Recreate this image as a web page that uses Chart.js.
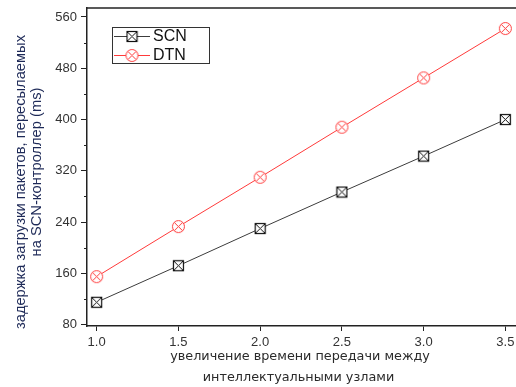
<!DOCTYPE html>
<html>
<head>
<meta charset="utf-8">
<script src="https://cdn.jsdelivr.net/npm/chart.js@4/dist/chart.umd.min.js"></script>
<style>
  html, body { margin: 0; padding: 0; background: #fff; }
  #viewport { width: 516px; height: 387px; overflow: hidden; position: relative; }
  #holder { width: 524px; height: 387px; position: absolute; left: 0; top: 0; }
  canvas { display: block; }
</style>
</head>
<body>
<div id="viewport"><div id="holder"><canvas id="chart" width="524" height="387" style="width:524px;height:387px"></canvas></div></div>
<script>
// Transmission-time multiplier between intelligent nodes
const xValues = [1.0, 1.5, 2.0, 2.5, 3.0, 3.5];
// Packet upload delay to the SCN controller, ms
const scnDelay = [115, 172, 230, 287, 343, 400];
const dtnDelay = [155, 233, 310, 388, 465, 542];

const xTicks = [1.0, 1.5, 2.0, 2.5, 3.0, 3.5];
const yTicks = [80, 160, 240, 320, 400, 480, 560];
const yMinorTicks = [120, 200, 280, 360, 440, 520];

const seriesNames = ['SCN', 'DTN'];
const yTitleLines = ['задержка загрузки пакетов, пересылаемых', 'на SCN-контроллер (ms)'];
const xTitleLines = ['увеличение времени передачи между', 'интеллектуальными узлами'];

const SCN_LINE = '#3c3c3c';
const SCN_MARK = '#111111';
const DTN_COLOR = '#ff3a3a';

// Hollow square with a cross inside
function squareCross(color) {
  const c = document.createElement('canvas');
  c.width = 13; c.height = 13;
  const g = c.getContext('2d');
  g.strokeStyle = color; g.lineWidth = 1.2;
  g.fillStyle = '#fff';
  g.fillRect(1.5, 1.5, 10, 10);
  g.strokeRect(1.5, 1.5, 10, 10);
  g.lineWidth = 1;
  g.beginPath();
  g.moveTo(1.5, 1.5); g.lineTo(11.5, 11.5);
  g.moveTo(11.5, 1.5); g.lineTo(1.5, 11.5);
  g.stroke();
  return c;
}

// Hollow circle with a cross inside
function circleCross(color) {
  const c = document.createElement('canvas');
  c.width = 15; c.height = 15;
  const g = c.getContext('2d');
  g.strokeStyle = color; g.lineWidth = 1;
  g.fillStyle = '#fff';
  g.beginPath(); g.arc(7.5, 7.5, 6, 0, Math.PI * 2); g.fill(); g.stroke();
  const d = 6 * Math.SQRT1_2;
  g.beginPath();
  g.moveTo(7.5 - d, 7.5 - d); g.lineTo(7.5 + d, 7.5 + d);
  g.moveTo(7.5 + d, 7.5 - d); g.lineTo(7.5 - d, 7.5 + d);
  g.stroke();
  return c;
}

const scnMarker = squareCross(SCN_MARK);
const dtnMarker = circleCross(DTN_COLOR);

const toPoints = ys => xValues.map((x, i) => ({ x, y: ys[i] }));

// Frame top edge, minor y ticks, axis titles and the boxed legend
const decorations = {
  id: 'decorations',
  afterDraw(chart) {
    const { ctx, chartArea, scales } = chart;
    const y = scales.y;
    ctx.save();

    ctx.strokeStyle = '#222';
    ctx.lineWidth = 1.5;
    ctx.beginPath();
    ctx.moveTo(chartArea.left, chartArea.top);
    ctx.lineTo(chartArea.right + 10, chartArea.top);
    ctx.stroke();

    ctx.lineWidth = 1;
    ctx.beginPath();
    yMinorTicks.forEach(v => {
      const py = Math.round(y.getPixelForValue(v)) + 0.5;
      ctx.moveTo(chartArea.left - 3, py);
      ctx.lineTo(chartArea.left, py);
    });
    ctx.stroke();

    ctx.fillStyle = '#1e2a58';
    ctx.font = '14.7px "Liberation Sans", Arial, sans-serif';
    ctx.textAlign = 'center';
    ctx.textBaseline = 'middle';
    const yTitlePos = [[20.5, 182], [37, 172]];
    yTitleLines.forEach((t, i) => {
      ctx.save();
      ctx.translate(yTitlePos[i][0], yTitlePos[i][1]);
      ctx.rotate(-Math.PI / 2);
      ctx.fillText(t, 0, 0);
      ctx.restore();
    });

    ctx.fillStyle = '#2a2a2a';
    ctx.font = '12.8px "DejaVu Sans", Verdana, sans-serif';
    const xTitlePos = [[300, 357], [298.5, 378]];
    xTitleLines.forEach((t, i) => ctx.fillText(t, xTitlePos[i][0], xTitlePos[i][1]));

    // legend
    ctx.strokeStyle = '#333';
    ctx.lineWidth = 1;
    ctx.strokeRect(112.5, 27.5, 97, 36);
    const rows = [
      { name: seriesNames[0], color: SCN_LINE, img: scnMarker, y: 36 },
      { name: seriesNames[1], color: DTN_COLOR, img: dtnMarker, y: 55 }
    ];
    ctx.font = '16px "Liberation Sans", Arial, sans-serif';
    ctx.textAlign = 'left';
    rows.forEach(r => {
      ctx.strokeStyle = r.color;
      ctx.beginPath();
      ctx.moveTo(114, r.y + 0.5);
      ctx.lineTo(150, r.y + 0.5);
      ctx.stroke();
      ctx.drawImage(r.img, 132 - r.img.width / 2, r.y - r.img.height / 2 + 0.5);
      ctx.fillStyle = '#111';
      ctx.fillText(r.name, 153, r.y + 1);
    });
    ctx.restore();
  }
};

new Chart(document.getElementById('chart'), {
  type: 'line',
  data: {
    datasets: [
      {
        label: seriesNames[0],
        data: toPoints(scnDelay),
        borderColor: SCN_LINE,
        borderWidth: 1,
        pointStyle: scnMarker,
        pointRadius: 6,
        tension: 0
      },
      {
        label: seriesNames[1],
        data: toPoints(dtnDelay),
        borderColor: DTN_COLOR,
        borderWidth: 1,
        pointStyle: dtnMarker,
        pointRadius: 7,
        tension: 0
      }
    ]
  },
  options: {
    responsive: false,
    animation: false,
    layout: { padding: { top: 8, left: 0, right: 3, bottom: 0 } },
    plugins: { legend: { display: false }, tooltip: { enabled: false } },
    scales: {
      x: {
        type: 'linear',
        min: 0.941,
        max: 3.565,
        afterFit: s => { s.height = 61; s.paddingLeft = 0; s.paddingRight = 0; },
        afterBuildTicks: s => { s.ticks = xTicks.map(v => ({ value: v })); },
        grid: { drawOnChartArea: false, tickLength: 5, tickColor: '#222', tickWidth: 1 },
        border: { color: '#222', width: 1.5 },
        ticks: {
          padding: 4,
          color: '#333',
          font: { family: '"Liberation Sans", Arial, sans-serif', size: 13 },
          autoSkip: false,
          maxRotation: 0,
          callback: v => Number(v).toFixed(1)
        }
      },
      y: {
        min: 78,
        max: 574,
        afterFit: s => { s.width = 87; s.paddingTop = 0; s.paddingBottom = 0; },
        afterBuildTicks: s => { s.ticks = yTicks.map(v => ({ value: v })); },
        grid: { drawOnChartArea: false, tickLength: 6, tickColor: '#222', tickWidth: 1 },
        border: { color: '#222', width: 1.5 },
        ticks: {
          padding: 4,
          color: '#333',
          font: { family: '"Liberation Sans", Arial, sans-serif', size: 13 },
          autoSkip: false
        }
      }
    }
  },
  plugins: [decorations]
});
</script>
</body>
</html>
